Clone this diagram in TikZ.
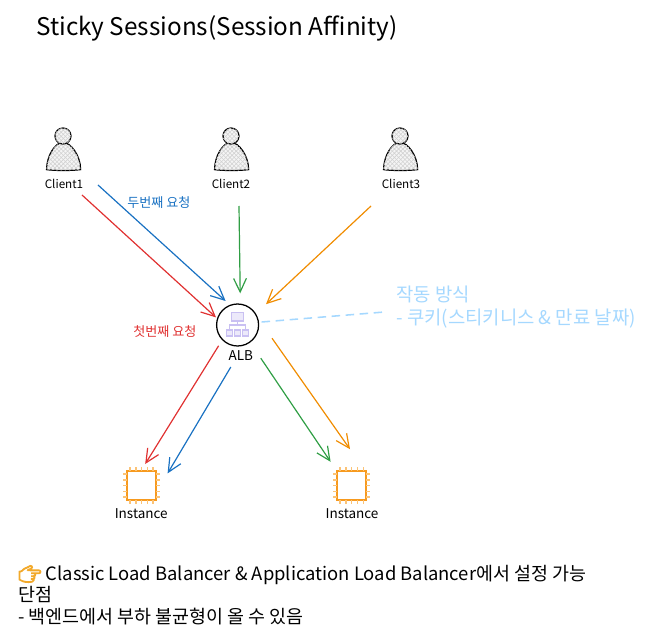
\documentclass[tikz,border=0pt]{standalone}
\usepackage{fontspec}
\setmainfont{Noto Sans CJK KR}
\newfontfamily\emojifont[FakeBold=6]{Noto Emoji}
\usetikzlibrary{arrows.meta,patterns}
\definecolor{redline}{HTML}{E03131}
\definecolor{blueline}{HTML}{1971C2}
\definecolor{greenline}{HTML}{2F9E44}
\definecolor{orangeline}{HTML}{F08C00}
\definecolor{noteblue}{HTML}{A5D8FF}
\definecolor{iconpurple}{HTML}{C9C0F2}
\definecolor{chiporange}{HTML}{F79A1E}
\definecolor{pinorange}{HTML}{FBC377}
\definecolor{thumbyellow}{HTML}{F2A92B}

\begin{document}
\begin{tikzpicture}[>={Straight Barb[length=3.4mm,width=3.2mm]}, every node/.style={inner sep=0pt},
	conn/.style={->, line width=0.85pt},
	lbl/.style={font=\fontsize{8.3}{10}\selectfont},
	wide/.style={font=\fontsize{9.6}{11}\selectfont},
	tag/.style={font=\fontsize{9.3}{11}\selectfont},
	big/.style={font=\fontsize{13.4}{16.4}\selectfont, align=left},
	chip/.style={draw=chiporange, fill=white, line width=1.1pt, minimum size=0.72cm},
	person/.pic={
		\draw[line width=0.9pt, fill=gray!8, postaction={pattern=crosshatch, pattern color=gray!35}] (-0.41,-0.84) .. controls (-0.41,-0.5) and (-0.2,-0.16) .. (0,-0.16) .. controls (0.2,-0.16) and (0.44,-0.5) .. (0.44,-0.84) .. controls (0.2,-0.87) and (-0.2,-0.87) .. cycle;
		\draw[line width=0.9pt, fill=gray!8, postaction={pattern=crosshatch, pattern color=gray!35}] (0,0) circle (0.2);
	}]
	\useasboundingbox (0,0) rectangle (16.4,-15.8);
	\node[anchor=west, font=\fontsize{17.3}{20}\selectfont] (title) at (0.9,-0.7) {Sticky Sessions(Session Affinity)};
	\pic at (1.575,-3.4) {person};
	\pic at (5.775,-3.4) {person};
	\pic at (10,-3.4) {person};
	\node[lbl] (client1) at (1.6,-4.6) {Client1};
	\node[lbl] (client2) at (5.775,-4.6) {Client2};
	\node[lbl] (client3) at (10.025,-4.6) {Client3};
	\node[draw, circle, line width=0.9pt, minimum size=1.05cm] (alb) at (5.94,-8.125) {};
	\node[wide] (alblabel) at (6.02,-8.88) {ALB};
	\draw[iconpurple, line width=0.8pt, fill=iconpurple!35] (5.79,-8.025) rectangle (6.09,-7.805);
	\draw[iconpurple, line width=0.8pt] (5.94,-8.025) -- (5.94,-8.125) (5.74,-8.25) -- (5.74,-8.125) -- (6.14,-8.125) -- (6.14,-8.25);
	\foreach \x in {5.74,5.94,6.14}
		\draw[iconpurple, line width=0.8pt, fill=iconpurple!35] (\x-0.08,-8.4) rectangle (\x+0.08,-8.25);
	\node[chip] (inst1) at (3.54,-12.14) {};
	\node[chip] (inst2) at (8.79,-12.14) {};
	\foreach \inst in {inst1,inst2}
		\foreach \p in {-0.29,-0.145,0,0.145,0.29} {
			\draw[pinorange, line width=1pt] ([shift={(\p,0.37)}]\inst.center) -- ++(0,0.1);
			\draw[pinorange, line width=1pt] ([shift={(\p,-0.37)}]\inst.center) -- ++(0,-0.1);
			\draw[pinorange, line width=1pt] ([shift={(-0.37,\p)}]\inst.center) -- ++(-0.1,0);
			\draw[pinorange, line width=1pt] ([shift={(0.37,\p)}]\inst.center) -- ++(0.1,0);
		}
	\node[wide] (inst1label) at (3.53,-12.83) {Instance};
	\node[wide] (inst2label) at (8.8,-12.83) {Instance};
	\node[tag, text=blueline] (second) at (3.97,-5.07) {두번째 요청};
	\node[tag, text=redline] (first) at (4.12,-8.3) {첫번째 요청};
	\node[big, text=noteblue, anchor=west] (note) at (9.9,-7.68) {작동 방식\\- 쿠키(스티키니스 \& 만료 날짜)};
	\draw[conn, redline] ([shift={(0.45,-0.275)}]client1.center) -- ([shift={(-0.54,0.19)}]alb.center);
	\draw[conn, blueline] ([shift={(0.85,-0.025)}]client1.center) -- ([shift={(-0.3,0.6)}]alb.center);
	\draw[conn, greenline] ([shift={(0.2,-0.55)}]client2.center) -- ([shift={(0.065,0.79)}]alb.center);
	\draw[conn, orangeline] ([shift={(-0.75,-0.55)}]client3.center) -- ([shift={(0.71,0.52)}]alb.center);
	\draw[conn, redline] ([shift={(-0.475,-0.52)}]alb.center) -- ([shift={(0.09,0.54)}]inst1.center);
	\draw[conn, blueline] ([shift={(-0.17,-1.05)}]alb.center) -- ([shift={(0.65,0.305)}]inst1.center);
	\draw[conn, greenline] ([shift={(0.58,-0.83)}]alb.center) -- ([shift={(-0.525,0.595)}]inst2.center);
	\draw[conn, orangeline] ([shift={(0.86,-0.33)}]alb.center) -- ([shift={(-0.04,0.91)}]inst2.center);
	\draw[noteblue, line width=1.1pt, dash pattern=on 6pt off 4pt] ([shift={(0.6,0.075)}]alb.center) -- ([shift={(-0.35,-0.125)}]note.west);
	\node[big, anchor=north west, font=\fontsize{13.1}{15.3}\selectfont] (footer) at (0.45,-14.12) {{\emojifont\color{thumbyellow}👉} Classic Load Balancer \& Application Load Balancer에서 설정 가능\\단점\\- 백엔드에서 부하 불균형이 올 수 있음};
\end{tikzpicture}
\end{document}
